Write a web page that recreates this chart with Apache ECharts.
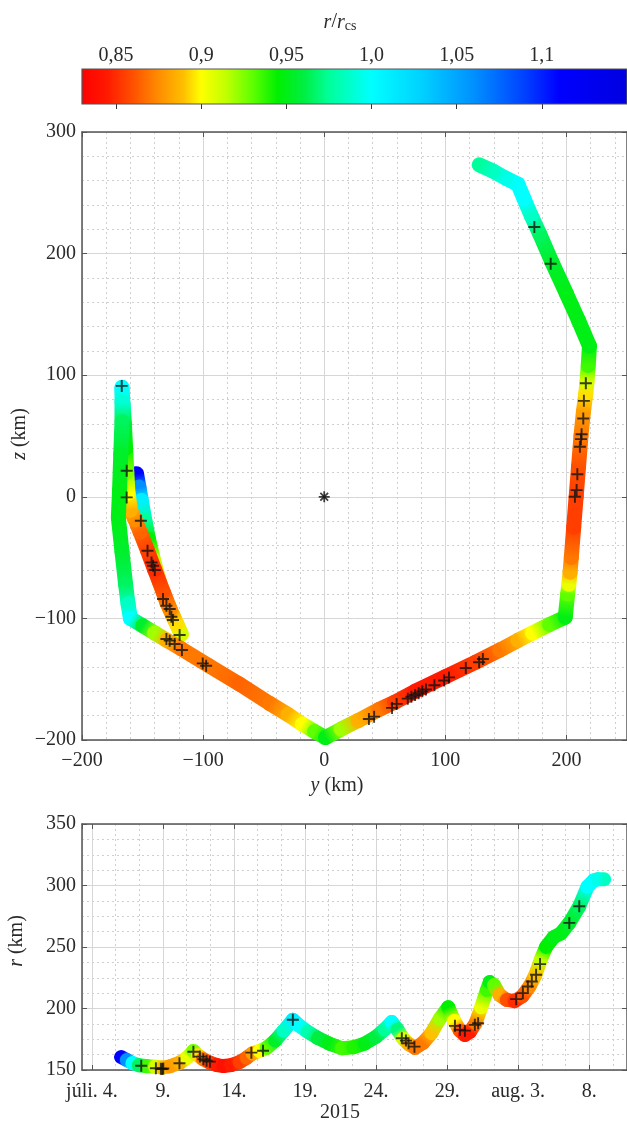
<!DOCTYPE html>
<html><head><meta charset="utf-8">
<script src="https://cdn.jsdelivr.net/npm/echarts@6/dist/echarts.min.js"></script>
<style>html,body{margin:0;padding:0;background:#fff}#c{width:627px;height:1123px}</style>
</head><body><div id="c"></div>
<script>
// ---------- colour scale r/r_cs ----------
const cmapValues = [0.83, 0.845, 0.86, 0.875, 0.89, 0.90, 0.915, 0.93, 0.945, 0.96, 0.975, 1.0, 1.03, 1.06, 1.09, 1.11, 1.15];
const cmapColors = ['#ff0000','#ff1a00','#ff5000','#ff8c00','#ffc000','#ffff00','#c0ff00','#60ff00','#00f000','#00ee40','#00ff9a','#00ffff','#00d0ff','#0090ff','#0040ff','#0000ff','#0000e0'];
const cbRange = [0.83, 1.15];
const cbTickValues = [0.85, 0.9, 0.95, 1.0, 1.05, 1.1];
const cbTickLabels = ['0,85', '0,9', '0,95', '1,0', '1,05', '1,1'];

// ---------- main plot: trajectory in (y, z) km, coloured by r/r_cs ----------
const trackY = [-155,-153,-151,-148,-145,-141,-136,-130,-124,-118,
  -122,-127,-133,-140,-146,-152,-156,-160,
  -162,-163,-164,-165,-166,-167,
  -167,-167,-168,-169,-170,-167,-164,-162,-160,
  -150,-140,-130,-118,-95,-70,-45,-30,-18,-8,1,
  14,28,45,58,75,100,125,145,160,172,186,199,
  201,202,203,204,206,208,210,212,214,216,217,218,219,
  210,200,188,178,171,165,160,
  150,139,128];
const trackZ = [19,8,-3,-20,-35,-52,-70,-87,-100,-113,
  -104,-93,-78,-60,-44,-29,-19,-11,
  3,20,40,60,75,90,
  78,62,35,5,-17,-45,-72,-88,-100,
  -106,-112,-118,-125,-139,-154,-170,-179,-187,-193,-198,
  -191,-184,-175,-169,-160,-148,-136,-126,-118,-112,-105,-99,
  -80,-72,-62,-50,-25,0,25,50,70,85,95,108,124,
  145,167,193,216,231,245,257,
  262,268,273];
const trackC = [1.11,1.06,1.01,0.975,0.945,0.915,0.89,0.875,0.885,0.91,
  0.895,0.875,0.86,0.85,0.855,0.865,0.875,0.885,
  0.90,0.925,0.945,0.955,0.98,1.0,
  0.99,0.965,0.955,0.95,0.95,0.955,0.965,0.985,1.0,
  0.955,0.92,0.885,0.87,0.87,0.865,0.87,0.885,0.90,0.93,0.95,
  0.92,0.885,0.87,0.855,0.845,0.845,0.855,0.87,0.885,0.90,0.93,0.95,
  0.93,0.905,0.885,0.87,0.855,0.855,0.86,0.87,0.88,0.895,0.91,0.935,0.95,
  0.95,0.95,0.955,0.965,0.985,1.0,1.0,
  0.995,0.985,0.975];
// '+' markers on the trajectory
const markY = [-167.2,-163.1,-163.1,
  -151.4,-145.9,-142.6,-141.3,-139.9,-133.1,-130.3,-127.6,-126.2,-124.9,-119.4,
  -130.3,-127.6,-123.5,-117.5,-100.3,-97.5,
  36.9,41.2,56,59.8,69,72,75,78,81,84,91,99,103,116.9,127.9,131,
  207,208.4,209,211.1,212,212.5,213.9,214.4,216,
  187,173.5];
const markZ = [91.2,21.4,-0.5,
  -19.7,-44.4,-54,-56.7,-60.2,-84,-89.6,-92.3,-98.6,-101.3,-113.6,
  -117,-118.3,-121,-126,-137,-138.9,
  -182.7,-180.8,-173.6,-170.3,-166,-164.5,-163,-161.5,-160,-158.5,-155,-151,-148.5,-140.8,-136,-133.4,
  0,5.5,18.6,41.1,47.4,51.5,64.4,78.9,93.4,
  191.7,221.9];
const originPoint = [[0, 0]];

// ---------- bottom plot: r (km) vs time (days after 2015-07-04 00:00) ----------
const tDays = [2.05,2.45,2.85,3.3,3.9,4.45,4.95,5.5,6.2,6.7,7.14,
  7.45,7.8,8.3,8.8,9.25,9.8,10.4,10.9,11.3,11.8,12.3,12.9,13.5,14.14,
  14.6,15.2,15.9,16.7,17.6,18.4,19.2,20.0,20.6,21.1,
  21.5,21.9,22.3,22.75,23.3,23.9,24.5,25.08,
  25.5,25.9,26.25,26.6,27.0,27.4,27.8,28.0,
  28.3,28.7,29.2,29.75,30.3,30.8,31.2,31.6,31.96,
  32.5,33.0,33.6,34.3,34.88,35.3,35.6,36.05];
const rKm = [160.5,158.2,155.6,153.9,153.0,152.6,152.0,153.0,156.0,160.0,165.5,
  162.0,159.0,156.0,154.0,153.2,154.0,156.5,160.0,163.5,165.5,168.0,174.0,182.0,190.8,
  186.0,181.0,176.0,171.5,167.7,168.5,171.5,177.0,183.0,189.0,
  183.0,175.5,171.0,168.0,172.0,180.0,192.0,201.0,
  190.0,182.0,178.5,181.0,188.0,201.0,215.0,221.5,
  219.0,211.0,207.0,206.0,210.0,218.0,227.0,240.0,250.0,
  258.0,261.0,269.5,283.0,299.0,304.0,305.0,305.0];
const rC = [1.11,1.06,1.0,0.965,0.935,0.91,0.89,0.88,0.885,0.905,0.925,
  0.895,0.87,0.855,0.845,0.84,0.845,0.855,0.865,0.88,0.90,0.93,0.955,0.985,1.01,
  1.0,0.98,0.96,0.95,0.935,0.94,0.95,0.96,0.975,1.0,
  0.97,0.91,0.885,0.87,0.87,0.89,0.92,0.945,
  0.90,0.86,0.845,0.845,0.87,0.905,0.935,0.95,
  0.93,0.885,0.86,0.85,0.86,0.875,0.89,0.915,0.945,
  0.95,0.95,0.955,0.965,1.0,1.0,0.995,0.985];
const markT = [3.47,4.5,4.85,4.95,5.02,6.16,7.14,7.6,7.84,8.07,8.3,11.22,12.04,14.14,
  21.81,22.1,22.28,22.7,25.55,25.9,26.25,26.95,27.18,
  29.86,30.33,30.68,30.96,31.26,31.54,33.6,34.3];
const markR = [153.5,151.4,151.0,150.8,151.2,155.5,164.9,160.9,158.7,157.6,156.8,164.1,165.7,190.8,
  175.8,173.9,171.8,169,185.9,182.6,182,186.7,188,
  207.6,212.5,217.9,222,227.4,236.1,269.6,283.1];
const dateTickDays = [0, 5, 10, 15, 20, 25, 30, 35];
const dateTickLabels = ['júli. 4.', '9.', '14.', '19.', '24.', '29.', 'aug. 3.', '8.'];

// ---------- helpers ----------
const FONT = '"Liberation Serif", "Times New Roman", serif';
const TXT = '#2a2a2a', FRAME = '#555', MAJ = '#d6d6d6', MIN = '#cfcfcf';
const cmapRGB = cmapColors.map(h => [parseInt(h.slice(1,3),16), parseInt(h.slice(3,5),16), parseInt(h.slice(5,7),16)]);
function cmap(v){
  if (v <= cmapValues[0]) return cmapColors[0];
  for (let i = 1; i < cmapValues.length; i++){
    if (v <= cmapValues[i]){
      const f = (v - cmapValues[i-1]) / (cmapValues[i] - cmapValues[i-1]);
      const a = cmapRGB[i-1], b = cmapRGB[i];
      return 'rgb(' + a.map((x,k) => Math.round(x + (b[k]-x)*f)).join(',') + ')';
    }
  }
  return cmapColors[cmapColors.length-1];
}
function segments(xs, ys, cs){
  const out = [];
  for (let i = 0; i < xs.length - 1; i++) out.push([xs[i], ys[i], cs[i], xs[i+1], ys[i+1], cs[i+1]]);
  return out;
}
function segRenderer(width){
  return function(params, api){
    const p1 = api.coord([api.value(0), api.value(1)]);
    const p2 = api.coord([api.value(3), api.value(4)]);
    const c1 = cmap(api.value(2)), c2 = cmap(api.value(5));
    return {
      type: 'line',
      shape: {x1: p1[0], y1: p1[1], x2: p2[0], y2: p2[1]},
      style: {
        stroke: new echarts.graphic.LinearGradient(p1[0], p1[1], p2[0], p2[1], [{offset:0,color:c1},{offset:1,color:c2}], true),
        lineWidth: width, lineCap: 'round'
      }
    };
  };
}
const minus = v => (v < 0 ? '\u2212' + (-v) : String(v));
const PLUS = 'path://M42,0H58V42H100V58H58V100H42V58H0V42H42Z';

function frameAxis(extra){
  return Object.assign({
    type: 'value',
    axisLine: {show: true, onZero: false, lineStyle: {color: FRAME, width: 1.5}},
    axisTick: {show: true, inside: true, length: 5, lineStyle: {color: FRAME, width: 1}},
    axisLabel: {show: false},
    splitLine: {show: false},
    minorSplitLine: {show: false}
  }, extra);
}
const labelStyle = {color: TXT, fontFamily: FONT, fontSize: 20};

const chart = echarts.init(document.getElementById('c'), null, {renderer: 'canvas'});
chart.setOption({
  backgroundColor: '#fff',
  animation: false,
  grid: [
    {left: 82, top: 132, width: 548, height: 608},
    {left: 82, top: 824, width: 548, height: 246},
    {left: 82, top: 69, width: 563, height: 35}
  ],
  xAxis: [
    frameAxis({gridIndex: 0, position: 'bottom', min: -200, max: 250, interval: 100,
      axisLabel: Object.assign({show: true, margin: 11, formatter: minus, showMaxLabel: false}, labelStyle),
      splitLine: {show: true, lineStyle: {color: MAJ, width: 1}},
      minorTick: {show: false, splitNumber: 5},
      minorSplitLine: {show: true, lineStyle: {color: MIN, width: 1, type: [2, 3]}}}),
    frameAxis({gridIndex: 0, position: 'top', min: -200, max: 250, interval: 100}),
    frameAxis({gridIndex: 1, position: 'bottom', min: -0.7, max: 37.66, minInterval: 5, maxInterval: 5, splitNumber: 7,
      axisLabel: Object.assign({show: true, margin: 12, interval: 0, showMinLabel: false, showMaxLabel: false,
        formatter: v => { const i = dateTickDays.findIndex(d => Math.abs(d - v) < 1e-6); return i >= 0 ? dateTickLabels[i] : ''; }}, labelStyle),
      splitLine: {show: true, lineStyle: {color: MAJ, width: 1}},
      minorTick: {show: false, splitNumber: 3},
      minorSplitLine: {show: true, lineStyle: {color: MIN, width: 1, type: [2, 3]}}}),
    frameAxis({gridIndex: 1, position: 'top', min: -0.7, max: 37.66, minInterval: 5, maxInterval: 5, splitNumber: 7}),
    frameAxis({gridIndex: 2, position: 'top', min: cbRange[0], max: cbRange[1], minInterval: 0.05, maxInterval: 0.05, splitNumber: 6,
      axisLine: {show: false},
      axisTick: {show: true, inside: true, length: 5, lineStyle: {color: '#333', width: 1}},
      axisLabel: Object.assign({show: true, margin: 3, interval: 0, showMinLabel: false, showMaxLabel: false,
        formatter: v => { const i = cbTickValues.findIndex(d => Math.abs(d - v) < 1e-6); return i >= 0 ? cbTickLabels[i] : ''; }}, labelStyle)})
  ],
  yAxis: [
    frameAxis({gridIndex: 0, position: 'left', min: -200, max: 300, interval: 100,
      axisLabel: Object.assign({show: true, margin: 6, formatter: minus}, labelStyle),
      splitLine: {show: true, lineStyle: {color: MAJ, width: 1}},
      minorTick: {show: false, splitNumber: 5},
      minorSplitLine: {show: true, lineStyle: {color: MIN, width: 1, type: [2, 3]}}}),
    frameAxis({gridIndex: 0, position: 'right', min: -200, max: 300, interval: 100}),
    frameAxis({gridIndex: 1, position: 'left', min: 150, max: 350, interval: 50,
      axisLabel: Object.assign({show: true, margin: 6}, labelStyle),
      splitLine: {show: true, lineStyle: {color: MAJ, width: 1}},
      minorTick: {show: false, splitNumber: 4},
      minorSplitLine: {show: true, lineStyle: {color: MIN, width: 1, type: [2, 3]}}}),
    frameAxis({gridIndex: 1, position: 'right', min: 150, max: 350, interval: 50}),
    {type: 'value', gridIndex: 2, min: 0, max: 1, show: false}
  ],
  series: [
    {type: 'custom', xAxisIndex: 4, yAxisIndex: 4, data: [[cbRange[0], cbRange[1]]],
      renderItem: function(params, api){
        const p0 = api.coord([api.value(0), 1]);
        const p1 = api.coord([api.value(1), 0]);
        const stops = cmapValues.map((v, i) => ({offset: (v - cbRange[0]) / (cbRange[1] - cbRange[0]), color: cmapColors[i]}));
        return {type: 'rect', shape: {x: p0[0], y: p0[1], width: p1[0] - p0[0], height: p1[1] - p0[1]},
          style: {fill: new echarts.graphic.LinearGradient(0, 0, 1, 0, stops), stroke: FRAME, lineWidth: 1.2}};
      }, z: 1},
    {type: 'custom', xAxisIndex: 0, yAxisIndex: 0, data: segments(trackY, trackZ, trackC), renderItem: segRenderer(15), z: 3},
    {type: 'scatter', xAxisIndex: 0, yAxisIndex: 0, data: markY.map((y, i) => [y, markZ[i]]),
      symbol: PLUS, symbolSize: 12, itemStyle: {color: '#111'}, z: 5},
    {type: 'scatter', xAxisIndex: 0, yAxisIndex: 0, data: originPoint, symbol: PLUS, symbolSize: 11, itemStyle: {color: '#111'}, z: 5},
    {type: 'scatter', xAxisIndex: 0, yAxisIndex: 0, data: originPoint, symbol: PLUS, symbolSize: 11, symbolRotate: 45, itemStyle: {color: '#111'}, z: 5},
    {type: 'custom', xAxisIndex: 2, yAxisIndex: 2, data: segments(tDays, rKm, rC), renderItem: segRenderer(14), z: 3},
    {type: 'scatter', xAxisIndex: 2, yAxisIndex: 2, data: markT.map((t, i) => [t, markR[i]]),
      symbol: PLUS, symbolSize: 12, itemStyle: {color: '#111'}, z: 5}
  ],
  graphic: [
    {type: 'text', x: 340, y: 22, style: {text: '{i|r}/{i|r}{s|cs}', align: 'center', verticalAlign: 'middle', fill: TXT,
      fontFamily: FONT, fontSize: 20,
      rich: {i: {fontStyle: 'italic', fontFamily: FONT, fontSize: 20, fill: TXT, lineHeight: 22, verticalAlign: 'bottom'},
             s: {fontFamily: FONT, fontSize: 14, fill: TXT, lineHeight: 22, verticalAlign: 'bottom', padding: [6, 0, 0, 0]}}}},
    {type: 'text', x: 337, y: 786, style: {text: '{i|y} (km)', align: 'center', verticalAlign: 'middle', fill: TXT,
      fontFamily: FONT, fontSize: 20, rich: {i: {fontStyle: 'italic', fontFamily: FONT, fontSize: 20, fill: TXT}}}},
    {type: 'text', x: 20, y: 434, rotation: Math.PI / 2, style: {text: '{i|z} (km)', align: 'center', verticalAlign: 'middle', fill: TXT,
      fontFamily: FONT, fontSize: 20, rich: {i: {fontStyle: 'italic', fontFamily: FONT, fontSize: 20, fill: TXT}}}},
    {type: 'text', x: 17, y: 941, rotation: Math.PI / 2, style: {text: '{i|r} (km)', align: 'center', verticalAlign: 'middle', fill: TXT,
      fontFamily: FONT, fontSize: 20, rich: {i: {fontStyle: 'italic', fontFamily: FONT, fontSize: 20, fill: TXT}}}},
    {type: 'text', x: 340, y: 1113, style: {text: '2015', align: 'center', verticalAlign: 'middle', fill: TXT, fontFamily: FONT, fontSize: 20}}
  ]
});
</script>
</body></html>
